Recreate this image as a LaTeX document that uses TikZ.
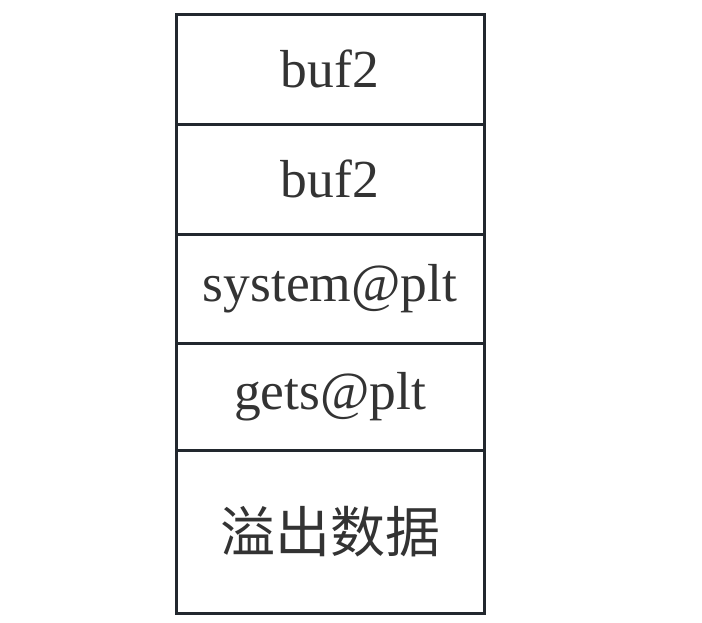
\documentclass[tikz,border=0pt]{standalone}
\usepackage{fontspec}
\setmainfont{Liberation Serif}
\newfontfamily\cjk{Noto Sans CJK SC}
\definecolor{linec}{HTML}{22282E}
\definecolor{textc}{HTML}{333333}
\begin{document}
\begin{tikzpicture}[x=1pt,y=-1pt,
  cell/.style={draw=linec,line width=3pt,minimum width=308pt,inner sep=0pt,outer sep=0pt,anchor=north west,
    font=\fontsize{53.5}{60}\selectfont,text=textc}]
\useasboundingbox (0,0) rectangle (702,622);
\node[cell,minimum height=110pt] (c1) at (176,14) {buf2};
\node[cell,minimum height=110pt] (c2) at (176,124) {buf2};
\node[cell,minimum height=109pt] (c3) at (176,234) {system@plt};
\node[cell,minimum height=107pt] (c4) at (176,343) {gets@plt};
\node[cell,minimum height=163pt,font=\cjk\fontsize{55}{60}\selectfont] (c5) at (176,450) {溢出数据};
\end{tikzpicture}
\end{document}
